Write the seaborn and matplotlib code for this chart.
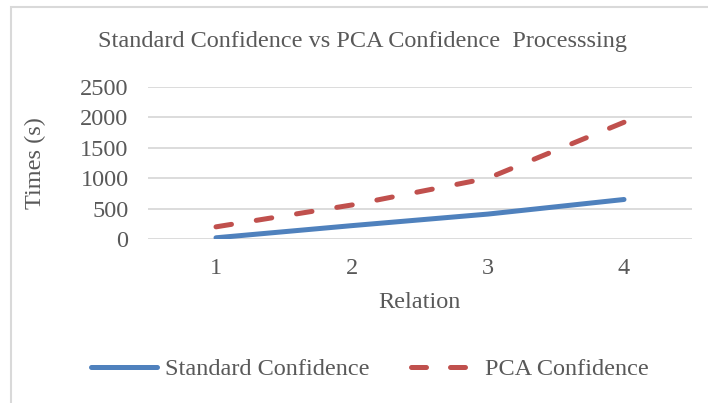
import numpy as np
import pandas as pd
import seaborn as sns
import matplotlib.pyplot as plt
from matplotlib.patches import Rectangle

relation = [1, 2, 3, 4]
standard_conf = [20, 220, 410, 650]
pca_conf = [200, 560, 1000, 1920]

data = pd.DataFrame({
    "Relation": relation * 2,
    "Times": standard_conf + pca_conf,
    "Series": ["Standard Confidence"] * 4 + ["PCA Confidence"] * 4,
})

sns.set_theme(style="white")
plt.rcParams["font.family"] = ["Liberation Serif", "DejaVu Serif"]
grey = "#595959"
fs = 17.5
lw = 3.6
dash = (3.0, 4.8)

fig = plt.figure(figsize=(7.08, 4.03), dpi=100)
ax = fig.add_axes([148 / 708, 1 - 239 / 403, (692 - 148) / 708, (239 - 87) / 403])

sns.lineplot(data=data, x="Relation", y="Times", hue="Series", style="Series",
             palette={"Standard Confidence": "#4F81BD", "PCA Confidence": "#C0504D"},
             dashes={"Standard Confidence": "", "PCA Confidence": dash},
             linewidth=lw, ax=ax, legend=False)

ax.set_xlim(0.5, 4.5)
ax.set_ylim(0, 2500)
ax.set_xticks(relation)
ax.set_yticks(range(0, 2501, 500))
ax.yaxis.grid(True, color="#D9D9D9", linewidth=1.3)
ax.set_axisbelow(True)
for s in ax.spines.values():
    s.set_visible(False)
ax.tick_params(axis="both", length=0, labelsize=fs, colors=grey)
ax.tick_params(axis="x", pad=14)
ax.tick_params(axis="y", pad=14)
ax.set_xlabel("Relation", fontsize=fs, color=grey)
ax.set_ylabel("Times (s)", fontsize=fs, color=grey)
ax.xaxis.set_label_coords((379 + 460) / 2 / 708, 1 - 302 / 403, transform=fig.transFigure)
ax.yaxis.set_label_coords(35 / 708, 1 - 163 / 403, transform=fig.transFigure)
ax.xaxis.label.set_va("center")
ax.yaxis.label.set_va("center")

# stretch the dash pattern a little so the dashed line ends on a dash, as Excel does
for ln in ax.get_lines():
    ln.set_solid_capstyle("round")
    ln.set_dash_capstyle("round")
    if ln.get_linestyle() not in ("-", "solid"):
        pts = ax.transData.transform(np.column_stack(ln.get_data()))
        length = np.hypot(*np.diff(pts, axis=0).T).sum() * 72 / fig.dpi / lw
        n = max(1, round((length - dash[0]) / sum(dash)))
        k = length / (n * sum(dash) + dash[0])
        ln.set_linestyle((0, (dash[0] * k, dash[1] * k)))

fig.text((97 + 628) / 2 / 708, 1 - 42 / 403, "Standard Confidence vs PCA Confidence  Processsing",
         ha="center", va="center", fontsize=fs, color=grey)

handles = [plt.Line2D([], [], color="#4F81BD", lw=lw, solid_capstyle="round"),
           plt.Line2D([], [], color="#C0504D", lw=lw, ls=(0, dash), dash_capstyle="round")]
fig.legend(handles, ["Standard Confidence", "PCA Confidence"], loc="center",
           bbox_to_anchor=((90 + 650) / 2 / 708, 1 - 369 / 403), ncol=2, frameon=False,
           fontsize=fs, labelcolor=grey, handlelength=2.7, handletextpad=0.35,
           columnspacing=1.7)

fig.patches.append(Rectangle((11 / 708, -0.1), 1.2, 1 - 7 / 403 + 0.1,
                             transform=fig.transFigure, fill=False,
                             edgecolor="#D9D9D9", linewidth=1.5))

fig.savefig("out.png", dpi=100)
